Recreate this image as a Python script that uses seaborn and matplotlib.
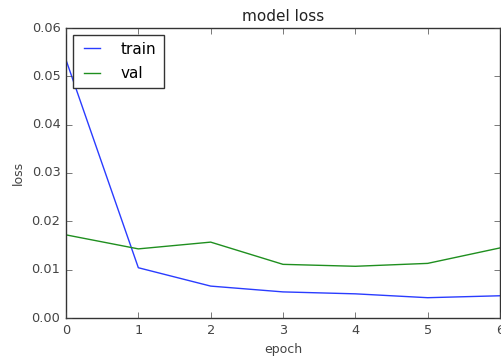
import matplotlib
matplotlib.use("Agg")
import matplotlib.pyplot as plt
import seaborn as sns
import pandas as pd

epochs = [0, 1, 2, 3, 4, 5, 6]
train_loss = [0.0534, 0.0104, 0.0066, 0.0054, 0.0050, 0.0042, 0.0046]
val_loss = [0.0172, 0.0143, 0.0157, 0.0111, 0.0107, 0.0113, 0.0145]
series_names = ["train", "val"]

plt.style.use("classic")
plt.rcParams["font.family"] = ["DejaVu Sans"]
plt.rcParams["figure.facecolor"] = "white"

df = pd.DataFrame({
    "epoch": epochs * 2,
    "loss": train_loss + val_loss,
    "series": [series_names[0]] * len(epochs) + [series_names[1]] * len(epochs),
})

fig = plt.figure(figsize=(5.01, 3.58), dpi=100)
ax = fig.add_axes([66 / 501, 1 - 318 / 358, 434 / 501, 290 / 358])
sns.lineplot(data=df, x="epoch", y="loss", hue="series",
             palette={"train": "#2a3cff", "val": "#1f8f1f"}, ax=ax, lw=1.0, legend=True)
ax.set_xlim(0, 6)
ax.set_ylim(0, 0.06)
ax.set_yticks([0.0, 0.01, 0.02, 0.03, 0.04, 0.05, 0.06])
ax.set_yticklabels(["0.00", "0.01", "0.02", "0.03", "0.04", "0.05", "0.06"])
ax.tick_params(labelsize=9.3, colors="#444444", labelcolor="#444444")
ax.set_title("model loss", fontsize=11, color="#222222", pad=5)
ax.set_xlabel("epoch", fontsize=9, color="#444444")
ax.set_ylabel("loss", fontsize=9, color="#444444")
for s in ax.spines.values():
    s.set_color("#333333")
leg = ax.legend(loc="upper left", fontsize=11, handlelength=1.6, borderpad=0.45,
                labelspacing=0.6, handletextpad=1.1, borderaxespad=0.45)
leg.get_frame().set_edgecolor("#333333")
fig.savefig("out.png", dpi=100, facecolor="white")
